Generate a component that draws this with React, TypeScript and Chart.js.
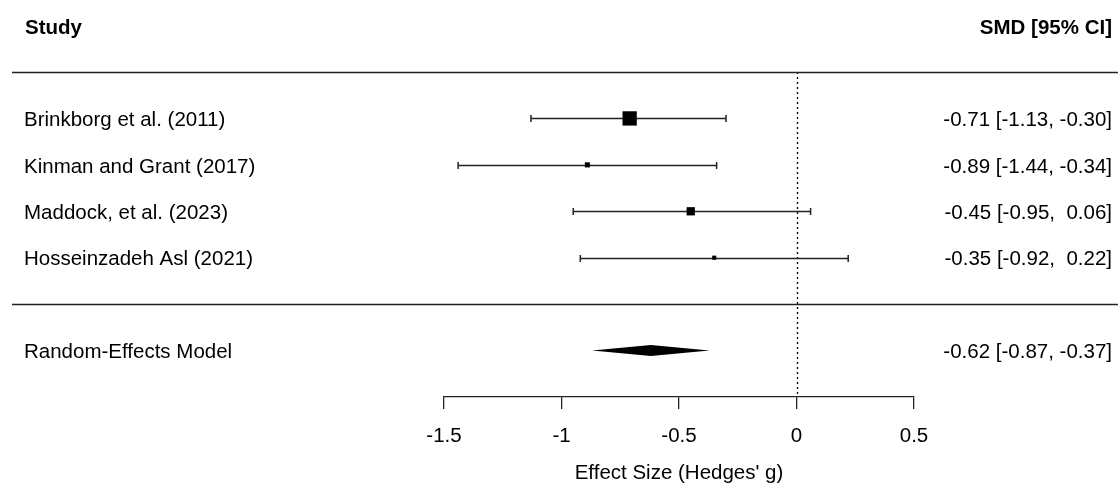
import React, { useEffect, useRef } from 'react';
import { Chart, registerables } from 'chart.js';

Chart.register(...registerables);

const studies = [
  'Brinkborg et al. (2011)',
  'Kinman and Grant (2017)',
  'Maddock, et al. (2023)',
  'Hosseinzadeh Asl (2021)',
];
const estimates = [-0.71, -0.89, -0.45, -0.35];
const lowerCI = [-1.13, -1.44, -0.95, -0.92];
const upperCI = [-0.3, -0.34, 0.06, 0.22];
const weights = [45, 16, 26, 13];
const ciLabels = [
  '-0.71 [-1.13, -0.30]',
  '-0.89 [-1.44, -0.34]',
  '-0.45 [-0.95,  0.06]',
  '-0.35 [-0.92,  0.22]',
];
const pooledLabel = 'Random-Effects Model';
const pooledEstimate = -0.62;
const pooledLower = -0.87;
const pooledUpper = -0.37;
const pooledCiLabel = '-0.62 [-0.87, -0.37]';
const xTicks = [-1.5, -1, -0.5, 0, 0.5];
const headerLeft = 'Study';
const headerRight = 'SMD [95% CI]';
const axisTitle = "Effect Size (Hedges' g)";

const FONT = '"Liberation Sans", Arial, sans-serif';
const FS = 20.5;

export default function App() {
  const ref = useRef<HTMLCanvasElement | null>(null);

  useEffect(() => {
    const canvas = ref.current;
    if (!canvas) return;
    const studyRows = studies.map((_, i) => i + 1);
    const pooledRow = studies.length + 2;
    const headerRow = -1;
    const sepRows = [0, studies.length + 1];

    const forestPlugin = {
      id: 'forest',
      beforeDatasetsDraw(chart: any) {
        const { ctx, scales } = chart;
        const xs = scales.x;
        const ys = scales.y;
        ctx.save();
        // dotted reference line at 0
        ctx.strokeStyle = '#000';
        ctx.lineWidth = 1.3;
        ctx.setLineDash([2, 3]);
        ctx.beginPath();
        const x0 = Math.round(xs.getPixelForValue(0)) + 0.5;
        ctx.moveTo(x0, ys.getPixelForValue(0));
        ctx.lineTo(x0, ys.getPixelForValue(7));
        ctx.stroke();
        ctx.setLineDash([]);
        // CI bars
        ctx.strokeStyle = '#222';
        ctx.lineWidth = 1.5;
        studyRows.forEach((r, i) => {
          const y = Math.round(ys.getPixelForValue(r)) + 0.5;
          const xl = xs.getPixelForValue(lowerCI[i]);
          const xh = xs.getPixelForValue(upperCI[i]);
          ctx.beginPath();
          ctx.moveTo(xl, y);
          ctx.lineTo(xh, y);
          ctx.moveTo(xl, y - 3.5);
          ctx.lineTo(xl, y + 3.5);
          ctx.moveTo(xh, y - 3.5);
          ctx.lineTo(xh, y + 3.5);
          ctx.stroke();
        });
        // diamond
        const yd = ys.getPixelForValue(pooledRow);
        ctx.fillStyle = '#000';
        ctx.beginPath();
        ctx.moveTo(xs.getPixelForValue(pooledLower), yd);
        ctx.lineTo(xs.getPixelForValue(pooledEstimate), yd - 5.5);
        ctx.lineTo(xs.getPixelForValue(pooledUpper), yd);
        ctx.lineTo(xs.getPixelForValue(pooledEstimate), yd + 5.5);
        ctx.closePath();
        ctx.fill();
        ctx.restore();
      },
      afterDraw(chart: any) {
        const { ctx, scales, width } = chart;
        const ys = scales.y;
        ctx.save();
        // separator lines
        ctx.strokeStyle = '#222';
        ctx.lineWidth = 1.3;
        sepRows.forEach((r) => {
          const y = Math.round(ys.getPixelForValue(r)) + 0.5;
          ctx.beginPath();
          ctx.moveTo(12, y);
          ctx.lineTo(width, y);
          ctx.stroke();
        });
        ctx.fillStyle = '#000';
        ctx.textBaseline = 'middle';
        const dy = 2;
        // header
        ctx.font = `bold ${FS}px ${FONT}`;
        ctx.textAlign = 'left';
        ctx.fillText(headerLeft, 25, ys.getPixelForValue(headerRow) + 3);
        ctx.textAlign = 'right';
        ctx.fillText(headerRight, 1112, ys.getPixelForValue(headerRow) + 3);
        // rows
        ctx.font = `${FS}px ${FONT}`;
        studyRows.forEach((r, i) => {
          const y = ys.getPixelForValue(r) + dy;
          ctx.textAlign = 'left';
          ctx.fillText(studies[i], 24, y);
          ctx.textAlign = 'right';
          ctx.fillText(ciLabels[i], 1112, y);
        });
        const yp = ys.getPixelForValue(pooledRow) + dy;
        ctx.textAlign = 'left';
        ctx.fillText(pooledLabel, 24, yp);
        ctx.textAlign = 'right';
        ctx.fillText(pooledCiLabel, 1112, yp);
        ctx.restore();
      },
    };

    const chart = new Chart(canvas, {
      type: 'scatter',
      data: {
        datasets: [
          {
            data: estimates.map((e, i) => ({ x: e, y: studyRows[i] })),
            pointStyle: 'rect',
            pointRadius: weights.map((w) => (w * 0.318) / Math.SQRT2),
            backgroundColor: '#000',
            borderColor: '#000',
            borderWidth: 0,
          },
        ],
      },
      options: {
        responsive: false,
        animation: false,
        events: [],
        layout: { padding: { left: 444, right: 204, top: 72, bottom: 0 } },
        plugins: {
          legend: { display: false },
          tooltip: { enabled: false },
        },
        scales: {
          x: {
            type: 'linear',
            min: -1.5,
            max: 0.5,
            afterBuildTicks: (scale: any) => {
              scale.ticks = xTicks.map((v) => ({ value: v }));
            },
            afterFit: (scale: any) => {
              scale.height = 87;
            },
            grid: {
              display: true,
              drawOnChartArea: false,
              drawTicks: true,
              tickLength: 12,
              tickColor: '#222',
              lineWidth: 1.3,
            },
            border: { display: true, color: '#222', width: 1.3 },
            ticks: {
              color: '#000',
              font: { family: FONT, size: FS },
              padding: 15,
              maxRotation: 0,
              autoSkip: false,
              callback: (v: any) => String(v),
            },
            title: {
              display: true,
              text: axisTitle,
              color: '#000',
              font: { family: FONT, size: FS },
              padding: { top: 0, bottom: -2 },
            },
          },
          y: {
            type: 'linear',
            display: false,
            min: 0,
            max: 7,
            reverse: true,
          },
        },
      },
      plugins: [forestPlugin],
    });
    return () => chart.destroy();
  }, []);

  return (
    <div style={{ position: 'fixed', left: 0, top: 0, width: 1118, height: 484, background: '#fff' }}>
      <canvas ref={ref} width={1118} height={484} style={{ display: 'block' }} />
    </div>
  );
}
